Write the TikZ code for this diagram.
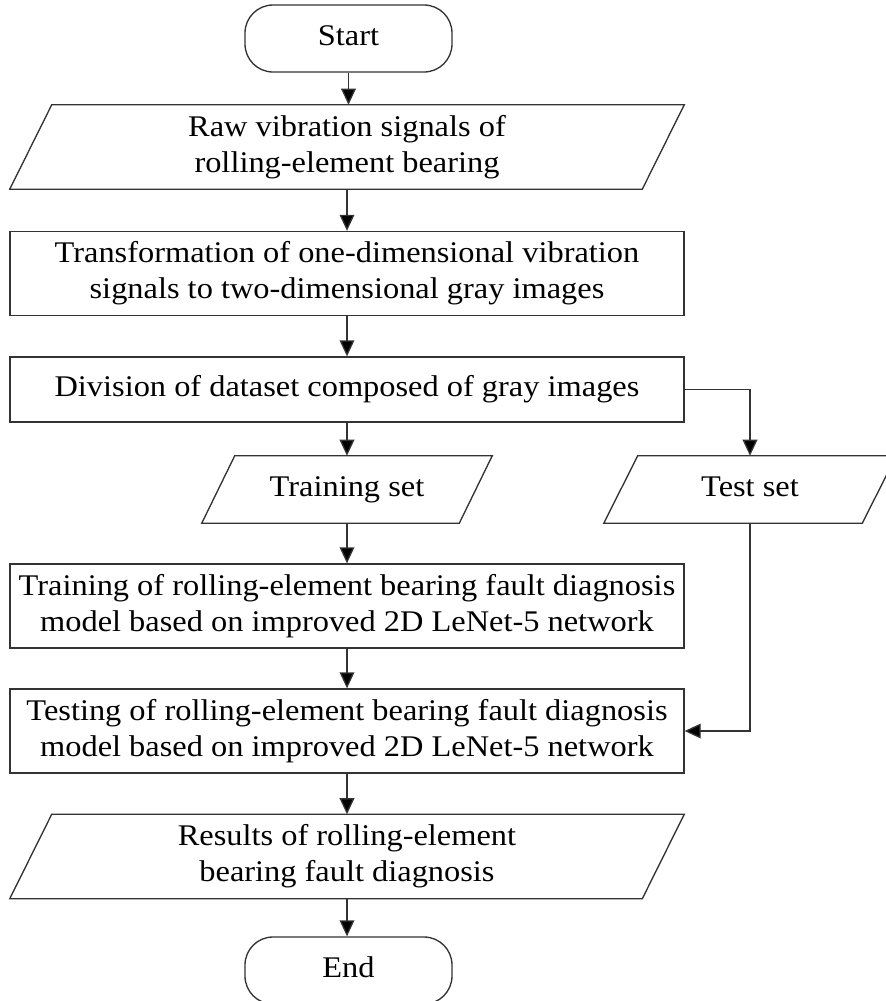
\documentclass[tikz,border=0pt]{standalone}
\usepackage{fontspec}
\setmainfont[FakeStretch=1.08]{Liberation Serif}
\usetikzlibrary{arrows.meta,calc}
\tikzset{
  edge/.style={draw=black!80, line width=1pt},
  arr/.style={edge, -{Triangle[length=12pt,width=11pt,fill=black]}},
  txt/.style={align=center, inner sep=0pt, text=black, font=\fontsize{22.5}{27}\selectfont},
  procbox/.style={txt, edge, minimum width=505.5pt, minimum height=63pt},
  iobox/.style={txt, minimum width=505.5pt, minimum height=63pt},
  termbox/.style={txt, edge, rounded corners=21pt, minimum width=155.25pt, minimum height=50.25pt},
}
\newcommand\drawpara[2]{\draw[edge, line join=miter] ($(#1.north west)+(#2,0)$) -- (#1.north east) -- ($(#1.south east)-(#2,0)$) -- (#1.south west) -- cycle;}
\begin{document}
\begin{tikzpicture}[x=0.75pt, y=-0.75pt]
\useasboundingbox (0,0) rectangle (886,1001);
\node[termbox] (start) at (348.5,38.5) {\strut Start};
\node[iobox] (raw) at (347,147) {Raw vibration signals of\\rolling-element bearing};
\drawpara{raw}{42}
\node[procbox] (trans) at (347,273.5) {Transformation of one-dimensional vibration\\signals to two-dimensional gray images};
\node[procbox, minimum height=48.75pt] (div) at (347,389.5) {\strut Division of dataset composed of gray images};
\node[iobox, minimum width=217.5pt, minimum height=50.25pt] (trainset) at (347,489.5) {\strut Training set};
\drawpara{trainset}{33}
\node[iobox, minimum width=219pt, minimum height=50.25pt] (testset) at (750,489.5) {\strut Test set};
\drawpara{testset}{34}
\node[procbox] (train) at (347,606) {Training of rolling-element bearing fault diagnosis\\model based on improved 2D LeNet-5 network};
\node[procbox] (test) at (347,731) {Testing of rolling-element bearing fault diagnosis\\model based on improved 2D LeNet-5 network};
\node[iobox] (res) at (347,856.5) {Results of rolling-element\\bearing fault diagnosis};
\drawpara{res}{42}
\node[termbox] (end) at (348.5,970.5) {\strut End};
\draw[arr] (start) -- (start.south |- raw.north);
\draw[arr] (raw) -- (trans);
\draw[arr] (trans) -- (div);
\draw[arr] (div) -- (trainset);
\draw[arr] (div.east) -| (testset.north);
\draw[arr] (trainset) -- (train);
\draw[arr] (train) -- (test);
\draw[arr] (testset.south) |- (test.east);
\draw[arr] (test) -- (res);
\draw[arr] (res) -- (end.north -| res.south);
\end{tikzpicture}
\end{document}
